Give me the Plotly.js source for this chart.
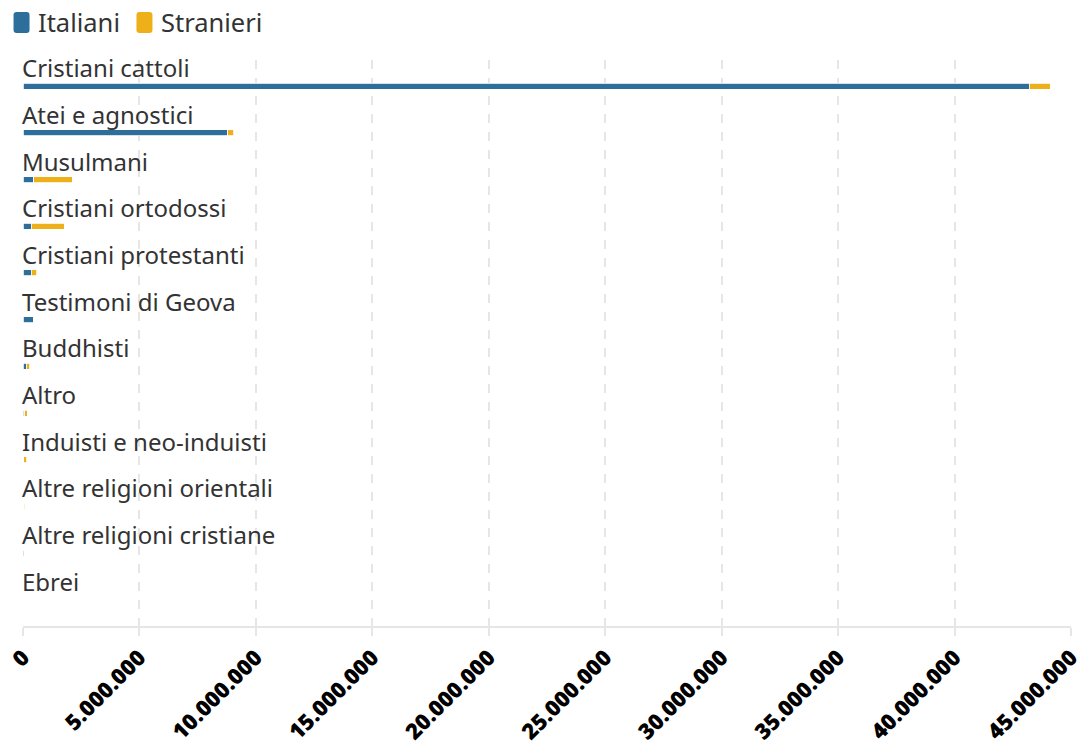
<!DOCTYPE html>
<html>
<head>
<meta charset="utf-8">
<script src="https://cdn.plot.ly/plotly-3.0.1.min.js"></script>
<style>html,body{margin:0;padding:0;background:#fff;}#chart{width:1088px;height:747px;}</style>
</head>
<body>
<div id="chart"></div>
<script>
const categories = ["Cristiani cattoli","Atei e agnostici","Musulmani","Cristiani ortodossi","Cristiani protestanti","Testimoni di Geova","Buddhisti","Altro","Induisti e neo-induisti","Altre religioni orientali","Altre religioni cristiane","Ebrei"];
const italiani = [43200000, 8800000, 470000, 360000, 360000, 440000, 130000, 70000, 40000, 25000, 50000, 30000];
const stranieri = [900000, 250000, 1650000, 1420000, 220000, 20000, 170000, 120000, 130000, 60000, 10000, 5000];
const tickValues = [0, 5000000, 10000000, 15000000, 20000000, 25000000, 30000000, 35000000, 40000000, 45000000];
const seriesNames = ["Italiani", "Stranieri"];

const BLUE = "#2e6e9b", YELLOW = "#eeb018";
const colors = [BLUE, YELLOW];
const barW = 0.13;
const traces = [
  {type:"bar", orientation:"h", name:seriesNames[0], y:categories, x:italiani, width:barW,
   marker:{color:BLUE, line:{color:"#fff", width:0.8}}},
  {type:"bar", orientation:"h", name:seriesNames[1], y:categories, x:stranieri, width:barW,
   marker:{color:YELLOW, line:{color:"#fff", width:0.8}}}
];
const FONT = "Noto Sans, Open Sans, sans-serif";
const annotations = categories.map(c => ({
  xref:"x", yref:"y", x:0, y:c, text:c, showarrow:false, xanchor:"left", yanchor:"bottom",
  yshift:0, xshift:-3, font:{family:FONT, size:24, color:"#333"}
}));
// custom legend (rounded swatches + labels)
const legendMarkerX = [-0.0014, 0.1159];
const legendTextX = [0.0125, 0.1300];
const legendY = 1.0663;
const shapes = [];
seriesNames.forEach((n, i) => {
  const w = 8, h = 10.5, r = 3;
  shapes.push({type:"path", xref:"paper", yref:"paper", xsizemode:"pixel", ysizemode:"pixel",
    xanchor:legendMarkerX[i], yanchor:legendY,
    path:`M ${-w+r},${-h} L ${w-r},${-h} Q ${w},${-h} ${w},${-h+r} L ${w},${h-r} Q ${w},${h} ${w-r},${h} L ${-w+r},${h} Q ${-w},${h} ${-w},${h-r} L ${-w},${-h+r} Q ${-w},${-h} ${-w+r},${-h} Z`,
    fillcolor:colors[i], line:{width:0}});
  annotations.push({xref:"paper", yref:"paper", x:legendTextX[i], y:legendY, text:n, showarrow:false,
    xanchor:"left", yanchor:"middle", font:{family:FONT, size:25.5, color:"#333"}});
});
const layout = {
  width:1088, height:747,
  margin:{l:23, r:17, t:60, b:121},
  barmode:"stack", bargap:0,
  separators:",.",
  showlegend:false,
  xaxis:{range:[0,45000000], tickvals:tickValues, tickformat:",d", tickangle:-45,
         showgrid:true, gridcolor:"#e6e6e6", gridwidth:2, griddash:"dash",
         zeroline:false, showline:true, linecolor:"#e6e6e6", linewidth:2,
         ticks:"outside", ticklen:8, tickcolor:"#e6e6e6", tickwidth:2,
         tickfont:{family:"Open Sans, sans-serif", size:22, color:"#000", weight:800}},
  yaxis:{type:"category", categoryorder:"array", categoryarray:categories,
         range:[11.56,-0.56], showticklabels:false, showgrid:false, zeroline:false, showline:false, ticks:""},
  annotations:annotations,
  shapes:shapes,
  plot_bgcolor:"#fff", paper_bgcolor:"#fff"
};
Plotly.newPlot("chart", traces, layout, {displayModeBar:false, staticPlot:true});
</script>
</body>
</html>
